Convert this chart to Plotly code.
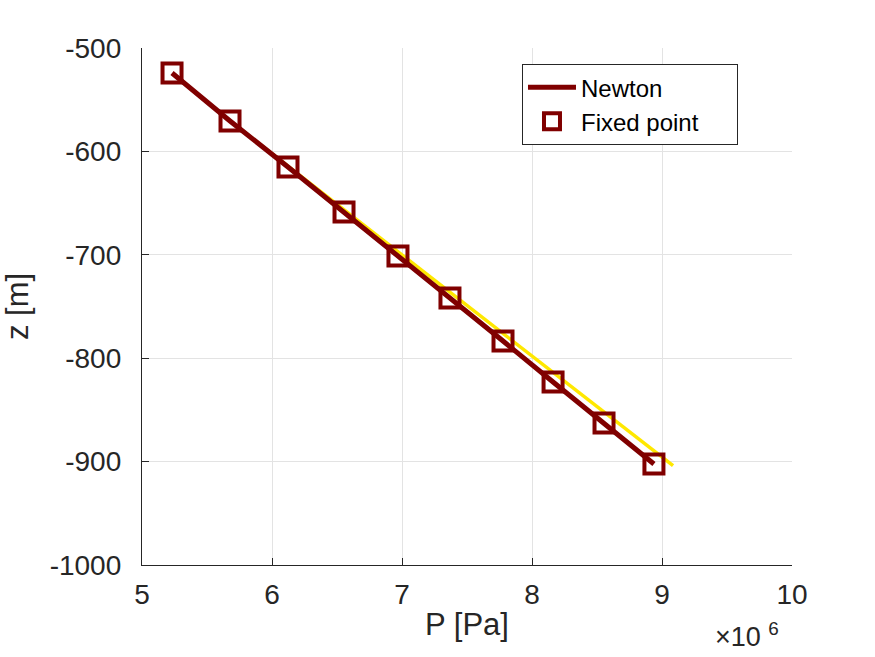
import plotly.graph_objects as go

# ---- data ----
P_points = [5.231e6, 5.677e6, 6.123e6, 6.554e6, 6.969e6, 7.369e6, 7.777e6, 8.162e6, 8.554e6, 8.938e6]
z_points = [-524.2, -570.6, -615.1, -658.6, -701.2, -741.8, -783.4, -823.0, -862.7, -902.3]

P_newton = [5.231e6, 5.677e6, 6.123e6, 6.554e6, 6.969e6, 7.369e6, 7.777e6, 8.162e6, 8.554e6, 8.938e6]
z_newton = [-524.2, -570.6, -615.1, -658.6, -701.2, -741.8, -783.4, -823.0, -862.7, -902.3]

P_ref = [5.68e6, 9.085e6]
z_ref = [-571.0, -904.0]

x_tickvals = [5e6, 6e6, 7e6, 8e6, 9e6, 10e6]
x_ticktext = ["5", "6", "7", "8", "9", "10"]
y_tickvals = [-1000, -900, -800, -700, -600, -500]
y_ticktext = ["-1000", "-900", "-800", "-700", "-600", "-500"]

DARK_RED = "#800000"
YELLOW = "#ffe800"
TXT = "#262626"
FONT = "Liberation Sans, Arial, Helvetica, sans-serif"
PAD = "\u00a0" * 5

fig = go.Figure()
fig.add_trace(go.Scatter(x=P_ref, y=z_ref, mode="lines",
                         line=dict(color=YELLOW, width=3.5), showlegend=False, hoverinfo="skip"))
fig.add_trace(go.Scatter(x=P_newton, y=z_newton, mode="lines", name="Newton",
                         line=dict(color=DARK_RED, width=5)))
fig.add_trace(go.Scatter(x=P_points, y=z_points, mode="markers", name="Fixed point" + PAD,
                         marker=dict(symbol="square-open", size=19, color=DARK_RED,
                                     line=dict(color=DARK_RED, width=4))))

axis_common = dict(
    showline=True, linecolor=TXT, linewidth=1.3,
    ticks="inside", ticklen=7, tickwidth=1.3, tickcolor=TXT,
    showgrid=True, gridcolor="#e3e3e3", gridwidth=1,
    zeroline=False,
    tickfont=dict(family=FONT, size=28, color=TXT),
)

fig.update_xaxes(range=[5e6, 10e6], tickmode="array", tickvals=x_tickvals, ticktext=x_ticktext,
                 title=dict(text="P [Pa]", font=dict(family=FONT, size=31, color=TXT), standoff=4),
                 ticklabelstandoff=4, **axis_common)
fig.update_yaxes(range=[-1000, -500], tickmode="array", tickvals=y_tickvals, ticktext=y_ticktext,
                 title=dict(text="z [m]", font=dict(family=FONT, size=31, color=TXT), standoff=14),
                 ticklabelstandoff=14, **axis_common)

fig.add_annotation(x=0.93, y=-0.135, xref="paper", yref="paper",
                   text="×10 <sup>6</sup>", showarrow=False,
                   font=dict(family=FONT, size=27, color=TXT),
                   xanchor="center", yanchor="middle")

fig.update_layout(
    width=875, height=657,
    margin=dict(l=142, r=83, t=48, b=92),
    paper_bgcolor="white", plot_bgcolor="white",
    font=dict(family=FONT, color=TXT),
    legend=dict(x=0.5846, y=0.969, xanchor="left", yanchor="top",
                bgcolor="white", bordercolor=TXT, borderwidth=1,
                font=dict(family=FONT, size=24, color="black"),
                itemwidth=48,
                itemsizing="trace", tracegroupgap=0),
)

fig.write_html("out.html")
